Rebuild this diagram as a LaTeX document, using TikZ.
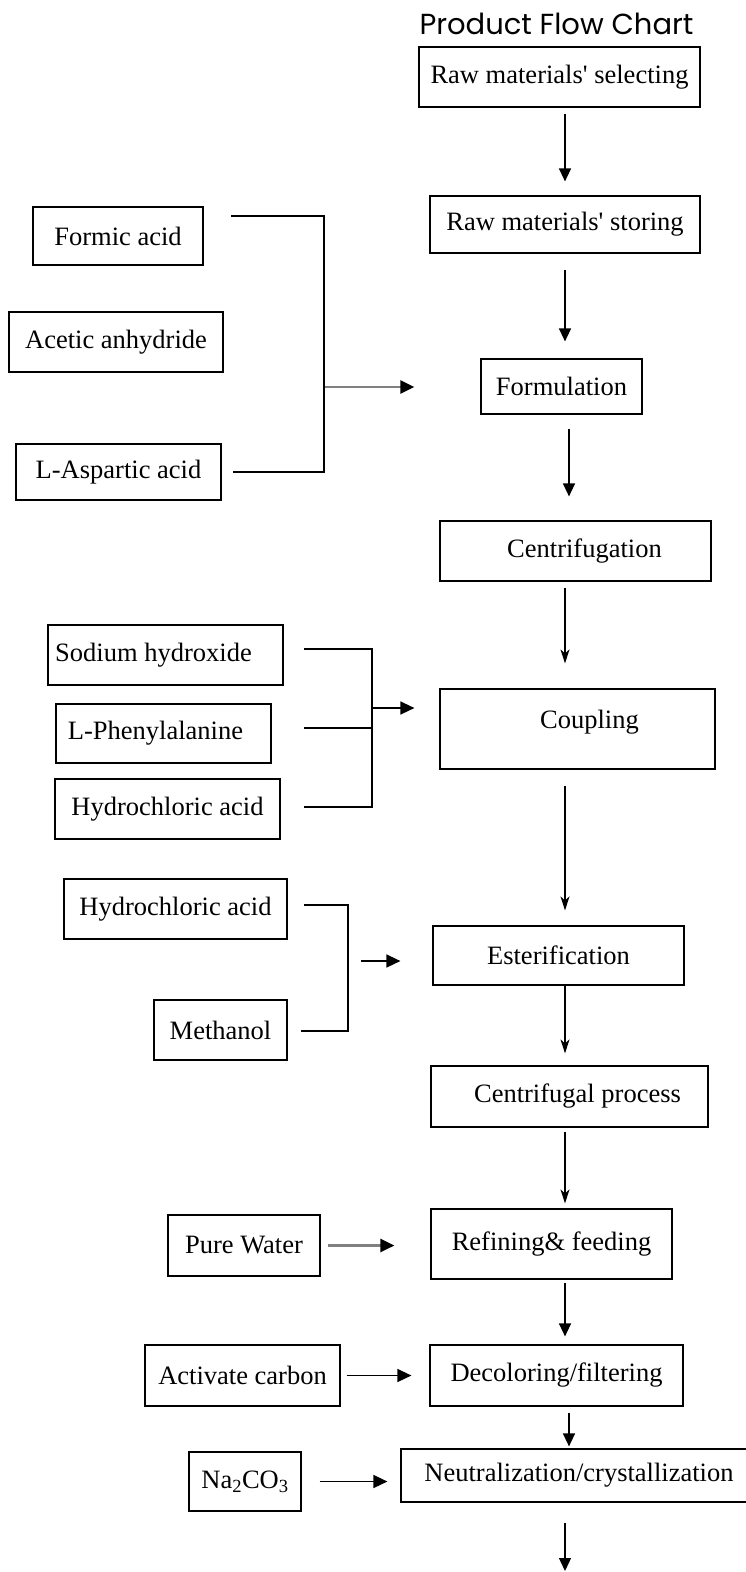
\documentclass[tikz,border=0pt]{standalone}
\usepackage{fontspec}
\setmainfont{Liberation Serif}
\newfontfamily\titlefont{Poppins}
\usetikzlibrary{arrows.meta}

\tikzset{
	box/.style={draw, line width=1.2pt, inner sep=0pt, font=\fontsize{26.5}{30}\selectfont},
	wire/.style={line width=1.3pt},
	flow/.style={line width=1.3pt, -{Triangle[length=13pt,width=12pt]}},
	thin flow/.style={line width=1.3pt, -{Stealth[length=14pt,width=9pt,inset=4pt]}},
	feed/.style={line width=1.5pt, -{Triangle[length=14pt,width=13pt]}},
	grey feed/.style={line width=2.6pt, draw=gray, -{Triangle[length=14pt,width=13pt,color=black]}}
}

\begin{document}
\begin{tikzpicture}[x=1pt, y=-1pt]
	\useasboundingbox (0,0) rectangle (745,1572);
	\node[font=\titlefont\fontsize{29}{33}\selectfont, anchor=base] (title) at (556.5,34) {Product Flow Chart};

	\node[box, minimum width=281pt, minimum height=60pt] (sel) at (559.5,77) {Raw materials\textquotesingle\ selecting};
	\node[box, minimum width=270pt, minimum height=57pt] (stor) at (565,224.5) {Raw materials\textquotesingle\ storing};
	\node[box, minimum width=161pt, minimum height=55pt] (form) at (561.5,386.5) {Formulation};
	\node[box, minimum width=271pt, minimum height=60pt] (centr) at (575.5,551) {\hspace*{18pt}Centrifugation};
	\node[box, minimum width=275pt, minimum height=80pt, text depth=20pt] (coup) at (577.5,729) {\hspace*{24pt}Coupling};
	\node[box, minimum width=251pt, minimum height=59pt] (ester) at (558.5,955.5) {Esterification};
	\node[box, minimum width=277pt, minimum height=61pt] (centp) at (569.5,1096.5) {\hspace*{16pt}Centrifugal process};
	\node[box, minimum width=241pt, minimum height=70pt] (refin) at (551.5,1244) {Refining\& feeding};
	\node[box, minimum width=253pt, minimum height=61pt] (decol) at (556.5,1375.5) {Decoloring/filtering};
	\node[box, minimum width=356pt, minimum height=53pt] (neut) at (579,1475.5) {Neutralization/crystallization};

	\node[box, minimum width=170pt, minimum height=58pt] (formic) at (118,236) {Formic acid};
	\node[box, minimum width=214pt, minimum height=60pt] (acetic) at (116,342) {Acetic anhydride};
	\node[box, minimum width=205pt, minimum height=56pt] (aspart) at (118.5,472) {L-Aspartic acid};
	\node[box, minimum width=235pt, minimum height=60pt] (naoh) at (165.5,655) {Sodium hydroxide\hspace*{24pt}};
	\node[box, minimum width=215pt, minimum height=59pt] (phe) at (163.5,733.5) {L-Phenylalanine\hspace*{16pt}};
	\node[box, minimum width=225pt, minimum height=60pt] (hcla) at (167.5,809) {Hydrochloric acid};
	\node[box, minimum width=223pt, minimum height=60pt] (hclb) at (175.5,909) {Hydrochloric acid};
	\node[box, minimum width=133pt, minimum height=60pt] (meoh) at (220.5,1030) {Methanol};
	\node[box, minimum width=152pt, minimum height=61pt] (water) at (244,1245.5) {Pure Water};
	\node[box, minimum width=195pt, minimum height=61pt] (carbon) at (242.5,1375.5) {Activate carbon};
	\node[box, minimum width=112pt, minimum height=59pt] (soda) at (245,1481.5) {Na\textsubscript{2}CO\textsubscript{3}};

	\coordinate (axis) at (565,0);
	\coordinate (out) at (565,1571);
	\coordinate (fa) at (231,216);
	\coordinate (fc) at (233,472);
	\coordinate (fj) at (324,387);
	\coordinate (na) at (304,649);
	\coordinate (pa) at (304,728);
	\coordinate (ha) at (304,807);
	\coordinate (cj) at (372,708);
	\coordinate (hb) at (304,905);
	\coordinate (mb) at (301,1031);
	\coordinate (ej) at (348,961);

	\draw[flow, shorten <=6pt, shorten >=14pt] (sel.south -| axis) -- (stor.north -| axis);
	\draw[flow, shorten <=16pt, shorten >=17pt] (stor.south -| axis) -- (form.north -| axis);
	\draw[flow, shorten <=14pt, shorten >=24pt] ([xshift=4pt]form.south -| axis) -- ([xshift=4pt]centr.north -| axis);
	\draw[thin flow, shorten <=6pt, shorten >=25pt] (centr.south -| axis) -- (coup.north -| axis);
	\draw[thin flow, shorten <=16pt, shorten >=15pt] (coup.south -| axis) -- (ester.north -| axis);
	\draw[thin flow, shorten >=12pt] (ester.south -| axis) -- (centp.north -| axis);
	\draw[thin flow, shorten <=4pt, shorten >=5pt] (centp.south -| axis) -- (refin.north -| axis);
	\draw[flow, shorten <=3pt, shorten >=8pt] (refin.south -| axis) -- (decol.north -| axis);
	\draw[flow, shorten <=6pt, shorten >=2pt] ([xshift=4pt]decol.south -| axis) -- ([xshift=4pt]neut.north -| axis);
	\draw[flow, shorten <=20pt] (neut.south -| axis) -- (out);

	\draw[wire] (fa) -| (fj) |- (fc);
	\draw[grey feed, shorten <=1pt, shorten >=66pt] (fj) -- (fj -| form.west);

	\draw[wire] (na) -| (cj) |- (ha);
	\draw[wire] (pa) -- (pa -| cj);
	\draw[feed, shorten >=25pt] (cj) -- (cj -| coup.west);

	\draw[wire] (hb) -| (ej) |- (mb);
	\draw[feed, shorten <=13pt, shorten >=32pt] (ej) -- (ej -| ester.west);

	\draw[grey feed, shorten <=7pt, shorten >=36pt] (water.east) -- (water.east -| refin.west);
	\draw[feed, shorten <=6pt, shorten >=18pt] (carbon.east) -- (carbon.east -| decol.west);
	\draw[feed, shorten <=18pt, shorten >=13pt] (soda.east) -- (soda.east -| neut.west);
\end{tikzpicture}
\end{document}
